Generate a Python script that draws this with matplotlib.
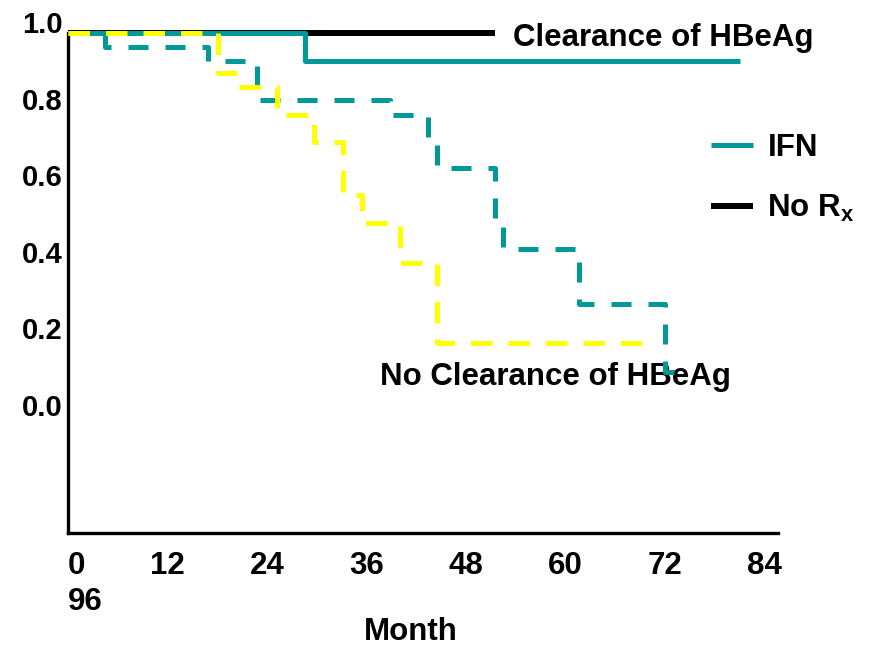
import numpy as np
import matplotlib.pyplot as plt
from matplotlib.lines import Line2D

plt.rcParams["font.family"] = ["Liberation Sans", "DejaVu Sans"]
plt.rcParams["font.weight"] = "bold"
plt.rcParams["mathtext.fontset"] = "custom"
plt.rcParams["mathtext.bf"] = "Liberation Sans:bold"
plt.rcParams["mathtext.rm"] = "Liberation Sans:bold"

teal = "#009999"
yellow = "#FFFF00"

# Kaplan-Meier steps (month at which each step starts, proportion) and last follow-up month
norx_clear_t = [0]
norx_clear_p = [0.97]
norx_clear_end = 51.5

ifn_clear_t = [0, 28.6]
ifn_clear_p = [0.97, 0.898]
ifn_clear_end = 81

ifn_noclear_t = [0, 4.5, 16.9, 22.8, 38.8, 43.4, 44.5, 51.5, 52.5, 61.6, 72]
ifn_noclear_p = [0.97, 0.935, 0.898, 0.796, 0.757, 0.687, 0.619, 0.478, 0.407, 0.264, 0.086]
ifn_noclear_end = 75

norx_noclear_t = [0, 18.1, 20.5, 25.2, 29.6, 33.2, 35.5, 40, 44.5]
norx_noclear_p = [0.97, 0.867, 0.83, 0.757, 0.687, 0.548, 0.475, 0.371, 0.162]
norx_noclear_end = 71

x_ticks = [0, 12, 24, 36, 48, 60, 72, 84]
y_ticks = [0.0, 0.2, 0.4, 0.6, 0.8, 1.0]


def steps(t, p, end):
    return list(t) + [end], list(p) + [p[-1]]


fig = plt.figure(figsize=(8.69, 6.46), dpi=100)
ax = fig.add_axes([68 / 869, 113 / 646, 710 / 869, 522.5 / 646])

x, y = steps(norx_clear_t, norx_clear_p, norx_clear_end)
ax.step(x, y, where="post", color="black", lw=4.3, solid_capstyle="butt", zorder=2)

x, y = steps(ifn_clear_t, ifn_clear_p, ifn_clear_end)
ax.step(x, y, where="post", color=teal, lw=3.6, solid_capstyle="butt", zorder=3)

x, y = steps(ifn_noclear_t, ifn_noclear_p, ifn_noclear_end)
ax.step(x, y, where="post", color=teal, lw=3.6, dashes=(4, 3.4), dash_capstyle="butt", zorder=4)

x, y = steps(norx_noclear_t, norx_noclear_p, norx_noclear_end)
ax.step(x, y, where="post", color=yellow, lw=3.6, dashes=(4.3, 3.2), dash_capstyle="butt", zorder=5)

ax.set_xlim(0, 85.6)
ax.set_ylim(-0.334, 1.03)
ax.spines["top"].set_visible(False)
ax.spines["right"].set_visible(False)
ax.spines["left"].set_bounds(-0.334, 0.97)
ax.spines["left"].set_linewidth(2.4)
ax.spines["bottom"].set_linewidth(2.4)

ax.set_xticks(x_ticks)
ax.set_xticklabels([str(v) for v in x_ticks], fontsize=22.5, fontweight="bold")
ax.get_xticklabels()[0].set_horizontalalignment("left")
ax.set_yticks(y_ticks)
ax.set_yticklabels([f"{v:.1f}" for v in y_ticks], fontsize=21, fontweight="bold")
ax.tick_params(axis="x", length=0, pad=13)
ax.tick_params(axis="y", length=0, pad=4)

fig.text(68 / 869, 1 - 602 / 646, "96", fontsize=22.5, fontweight="bold", ha="left", va="center")
ax.set_xlabel("Month", fontsize=22.5, fontweight="bold", va="center")
ax.xaxis.set_label_coords(0.483, -0.189)

ax.text(53.6, 0.958, "Clearance of HBeAg", fontsize=22.5, fontweight="bold", ha="left", va="center")
ax.text(37.6, 0.072, "No Clearance of HBeAg", fontsize=22.5, fontweight="bold", ha="left", va="center")

handles = [Line2D([], [], color=teal, lw=3.6, solid_capstyle="butt"),
           Line2D([], [], color="black", lw=4.3, solid_capstyle="butt")]
ax.legend(handles, ["IFN", r"No R$_\mathbf{x}$"], loc="upper left", bbox_to_anchor=(0.905, 0.765),
          frameon=False, prop={"size": 22.5, "weight": "bold"}, handlelength=1.37,
          handletextpad=0.45, labelspacing=0.95, borderaxespad=0, borderpad=0)

fig.savefig("out.png", dpi=100)
